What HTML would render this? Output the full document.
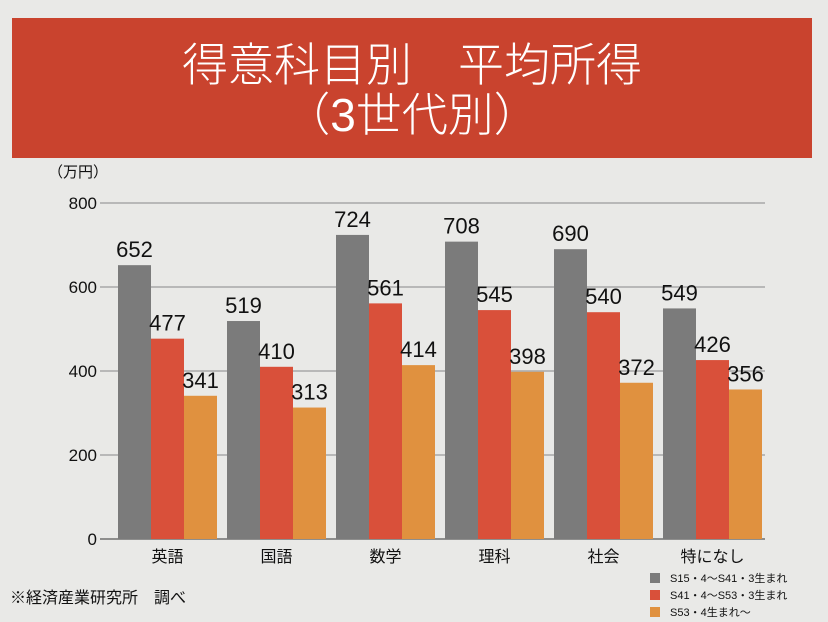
<!DOCTYPE html>
<html><head><meta charset="utf-8"><style>
body{margin:0;width:828px;height:622px;background:#e9e9e7;font-family:"Liberation Sans","Noto Sans CJK JP",sans-serif;overflow:hidden;position:relative}
.banner{position:absolute;left:12px;top:18px;width:800px;height:140px;background:#c9432e;color:#fff;text-align:center;font-size:46px;line-height:50px;padding-top:22px;box-sizing:border-box;font-family:"Liberation Sans","Noto Sans CJK JP",sans-serif;font-weight:300}
</style></head><body>
<div class="banner"><div>得意科目別　平均所得<br>（3世代別）</div></div>
<svg id="c" width="828" height="622" style="position:absolute;left:0;top:0"></svg>
<script>
const categories=["英語","国語","数学","理科","社会","特になし"];
const seriesNames=["S15・4〜S41・3生まれ","S41・4〜S53・3生まれ","S53・4生まれ〜"];
const seriesA=[652,519,724,708,690,549];
const seriesB=[477,410,561,545,540,426];
const seriesC=[341,313,414,398,372,356];
const yTicks=[0,200,400,600,800];
const colors=["#7b7b7b","#d9503a","#e0913f"];
const NS="http://www.w3.org/2000/svg";
const svg=document.getElementById('c');
const y0=539,yMax=800,plotH=336,xL=100,xR=765,groupW=109,barW=33,firstX=118;
const yScale=v=>y0-v/yMax*plotH;
const xGroup=i=>firstX+i*groupW;
function mk(t,a){const e=document.createElementNS(NS,t);for(const k in a)e.setAttribute(k,a[k]);svg.appendChild(e);return e;}
yTicks.forEach(t=>{
 const l=mk('line',{x1:xL,x2:xR,y1:yScale(t),y2:yScale(t),stroke:t===0?'#333':'#888','stroke-width':1});
 
 
 const tx=mk('text',{x:97,y:yScale(t)+6,'text-anchor':'end','font-size':17,fill:'#111'});
 tx.textContent=t;
 
 
});
const u=mk('text',{x:48,y:177,'font-size':15,fill:'#111'});u.textContent='（万円）';


[seriesA,seriesB,seriesC].forEach((s,si)=>{
 s.forEach((v,i)=>{
  const x=xGroup(i)+si*barW;
  const r=mk('rect',{x:x,y:yScale(v),width:barW,height:y0-yScale(v),fill:colors[si]});
  
  
  const t=mk('text',{x:x+barW/2,y:yScale(v)-8,'text-anchor':'middle','font-size':22,fill:'#111'});
  t.textContent=v;
  
  
 });
});
categories.forEach((c,i)=>{
 const t=mk('text',{x:xGroup(i)+barW*1.5,y:562,'text-anchor':'middle','font-size':16,fill:'#111'});
 t.textContent=c;
 
 
});
seriesNames.forEach((n,i)=>{
 const r=mk('rect',{x:650,y:573+i*17,width:10,height:10,fill:colors[i]});
 
 
 const t=mk('text',{x:670,y:582+i*17,'font-size':11,fill:'#111'});
 t.textContent=n;
 
 
});
const s=mk('text',{x:10,y:603,'font-size':16,fill:'#111'});s.textContent='※経済産業研究所　調べ';


</script>
</body></html>
